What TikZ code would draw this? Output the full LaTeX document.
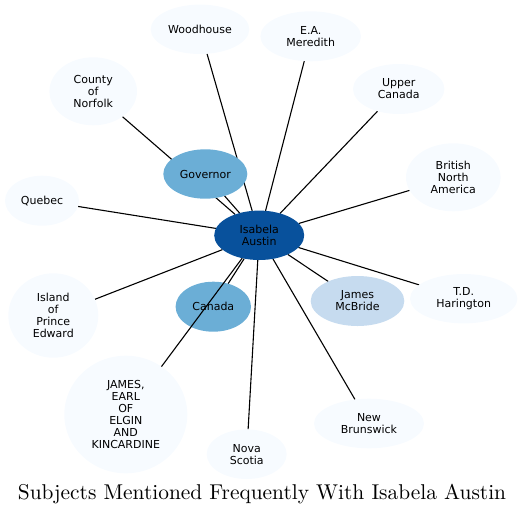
\documentclass[tikz,border=0pt]{standalone}
\usepackage{fontspec}
\usetikzlibrary{shapes.geometric, backgrounds}
\newfontfamily\labelfont{DejaVu Sans}
\newfontfamily\titlefont{lmroman10-regular}[Extension=.otf]
\definecolor{hubblue}{HTML}{08519C}
\definecolor{midblue}{HTML}{6BAED6}
\definecolor{lightblue}{HTML}{C6DBEF}
\definecolor{paleblue}{HTML}{F7FBFF}
\tikzstyle{subject} = [ellipse, inner sep=0pt, outer sep=0pt, align=center, fill=paleblue, font=\labelfont\fontsize{11}{12}\selectfont]
\tikzstyle{edge}    = [line width=1.1pt]

\begin{document}
\begin{tikzpicture}[x=1pt,y=-1pt]

\useasboundingbox (0,0) rectangle (525,515);

\node[subject,fill=hubblue,minimum width=90pt,minimum height=49.4pt] (S0) at (259.2,235.3) {Isabela\\Austin};

\node[subject,fill=midblue,minimum width=84pt,minimum height=49.4pt] (S1) at (205.3,174) {Governor};
\node[subject,fill=midblue,minimum width=75.4pt,minimum height=50pt] (S2) at (213.3,306.7) {Canada};
\node[subject,fill=lightblue,minimum width=93.6pt,minimum height=50pt] (S3) at (357.5,301) {James\\McBride};

\node[subject,minimum width=98.6pt,minimum height=49.4pt] (S4) at (200,29.3) {Woodhouse};
\node[subject,minimum width=100.6pt,minimum height=50pt] (S5) at (310.7,36.3) {E.A.\\Meredith};
\node[subject,minimum width=91.4pt,minimum height=50pt] (S6) at (398.7,89) {Upper\\Canada};
\node[subject,minimum width=94.6pt,minimum height=68pt] (S7) at (453.3,177.3) {British\\North\\America};
\node[subject,minimum width=107.4pt,minimum height=49.4pt] (S8) at (463.7,298.7) {T.D.\\Harington};
\node[subject,minimum width=110pt,minimum height=49.6pt] (S9) at (369,423.5) {New\\Brunswick};
\node[subject,minimum width=80pt,minimum height=49.6pt] (S10) at (246.7,454.2) {Nova\\Scotia};
\node[subject,minimum width=123pt,minimum height=117.6pt] (S11) at (125.8,414.5) {JAMES,\\EARL\\OF\\ELGIN\\AND\\KINCARDINE};
\node[subject,minimum width=90pt,minimum height=84.4pt] (S12) at (53.3,315.5) {Island\\of\\Prince\\Edward};
\node[subject,minimum width=74pt,minimum height=50pt] (S13) at (42,200.7) {Quebec};
\node[subject,minimum width=87.6pt,minimum height=68pt] (S14) at (93.2,91.3) {County\\of\\Norfolk};

\node[anchor=base] (T) at (262,499) {\titlefont\fontsize{21.4}{24}\selectfont Subjects Mentioned Frequently With Isabela Austin};

\begin{pgfonlayer}{background}
\draw[edge] (S0) -- (S1);
\draw[edge] (S0) -- (S2);
\draw[edge] (S0) -- (S3);
\draw[edge] (S0) -- (S4);
\draw[edge] (S0) -- (S5);
\draw[edge] (S0) -- (S6);
\draw[edge] (S0) -- (S7);
\draw[edge] (S0) -- (S8);
\draw[edge] (S0) -- (S9);
\draw[edge] (S0) -- (S10);
\draw[edge] (S0) -- (S12);
\draw[edge] (S0) -- (S13);
\draw[edge] (S0) -- (S14);
\end{pgfonlayer}

\draw[edge] (S0) -- (S11);

\end{tikzpicture}
\end{document}
